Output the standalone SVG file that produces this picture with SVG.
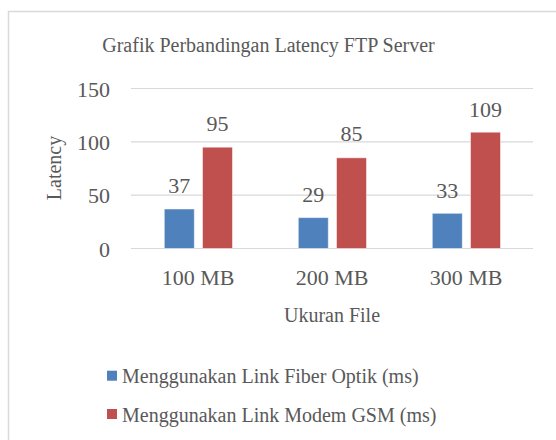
<svg xmlns="http://www.w3.org/2000/svg" width="556" height="440" viewBox="0 0 556 440">
<style>
text{font-family:"Liberation Serif","Times New Roman",serif;fill:#595959}
.t{font-size:20px;text-anchor:middle}
.ax{font-size:22px;text-anchor:end}
.cat{font-size:22px;text-anchor:middle}
.dl{font-size:22px;text-anchor:middle}
.lg{font-size:20px}
.grid{stroke:#d9d9d9;stroke-width:1.2}
.b{fill:#4f81bd;stroke:#ffffff;stroke-opacity:0.5;stroke-width:1}
.r{fill:#c0504d;stroke:#ffffff;stroke-opacity:0.5;stroke-width:1}
</style>
<rect x="0" y="0" width="556" height="440" fill="#ffffff"/>
<rect id="frame" x="8.5" y="11.5" width="600" height="500" fill="#ffffff" stroke="#d9d9d9" stroke-width="1.5"/>
<text id="title" class="t" x="268.5" y="52">Grafik Perbandingan Latency FTP Server</text>
<g id="gridlines">
<line class="grid" x1="131" y1="88.5" x2="533" y2="88.5"/>
<line class="grid" x1="131" y1="141.8" x2="533" y2="141.8"/>
<line class="grid" x1="131" y1="195.2" x2="533" y2="195.2"/>
<line class="grid" x1="131" y1="248.5" x2="533" y2="248.5"/>
</g>
<g id="y-axis">
<text class="ax" x="110" y="96.5">150</text>
<text class="ax" x="110" y="149.8">100</text>
<text class="ax" x="110" y="203.2">50</text>
<text class="ax" x="110" y="256.5">0</text>
<text class="t" transform="translate(61,168) rotate(-90)" x="0" y="0">Latency</text>
</g>
<g id="group-100MB">
<rect class="b" x="164.3" y="209" width="30" height="39.5"/>
<rect class="r" x="202.5" y="147.2" width="30" height="101.3"/>
<text class="dl" x="179.3" y="193">37</text>
<text class="dl" x="217.5" y="131">95</text>
<text class="cat" x="198" y="285">100 MB</text>
</g>
<g id="group-200MB">
<rect class="b" x="298.3" y="217.6" width="30" height="30.9"/>
<rect class="r" x="336.5" y="157.8" width="30" height="90.7"/>
<text class="dl" x="313.3" y="201.5">29</text>
<text class="dl" x="351.5" y="140.5">85</text>
<text class="cat" x="332" y="285">200 MB</text>
</g>
<g id="group-300MB">
<rect class="b" x="432.3" y="213.3" width="30" height="35.2"/>
<rect class="r" x="470.5" y="132.2" width="30" height="116.3"/>
<text class="dl" x="447.3" y="198">33</text>
<text class="dl" x="485.5" y="116.5">109</text>
<text class="cat" x="466" y="285">300 MB</text>
</g>
<text id="x-title" class="t" x="332" y="322">Ukuran File</text>
<g id="legend">
<rect x="107" y="370.7" width="10" height="10" fill="#4f81bd"/>
<text class="lg" x="122" y="383">Menggunakan Link Fiber Optik (ms)</text>
<rect x="107" y="409" width="10" height="10" fill="#c0504d"/>
<text class="lg" x="122" y="421.5">Menggunakan Link Modem GSM (ms)</text>
</g>
</svg>
